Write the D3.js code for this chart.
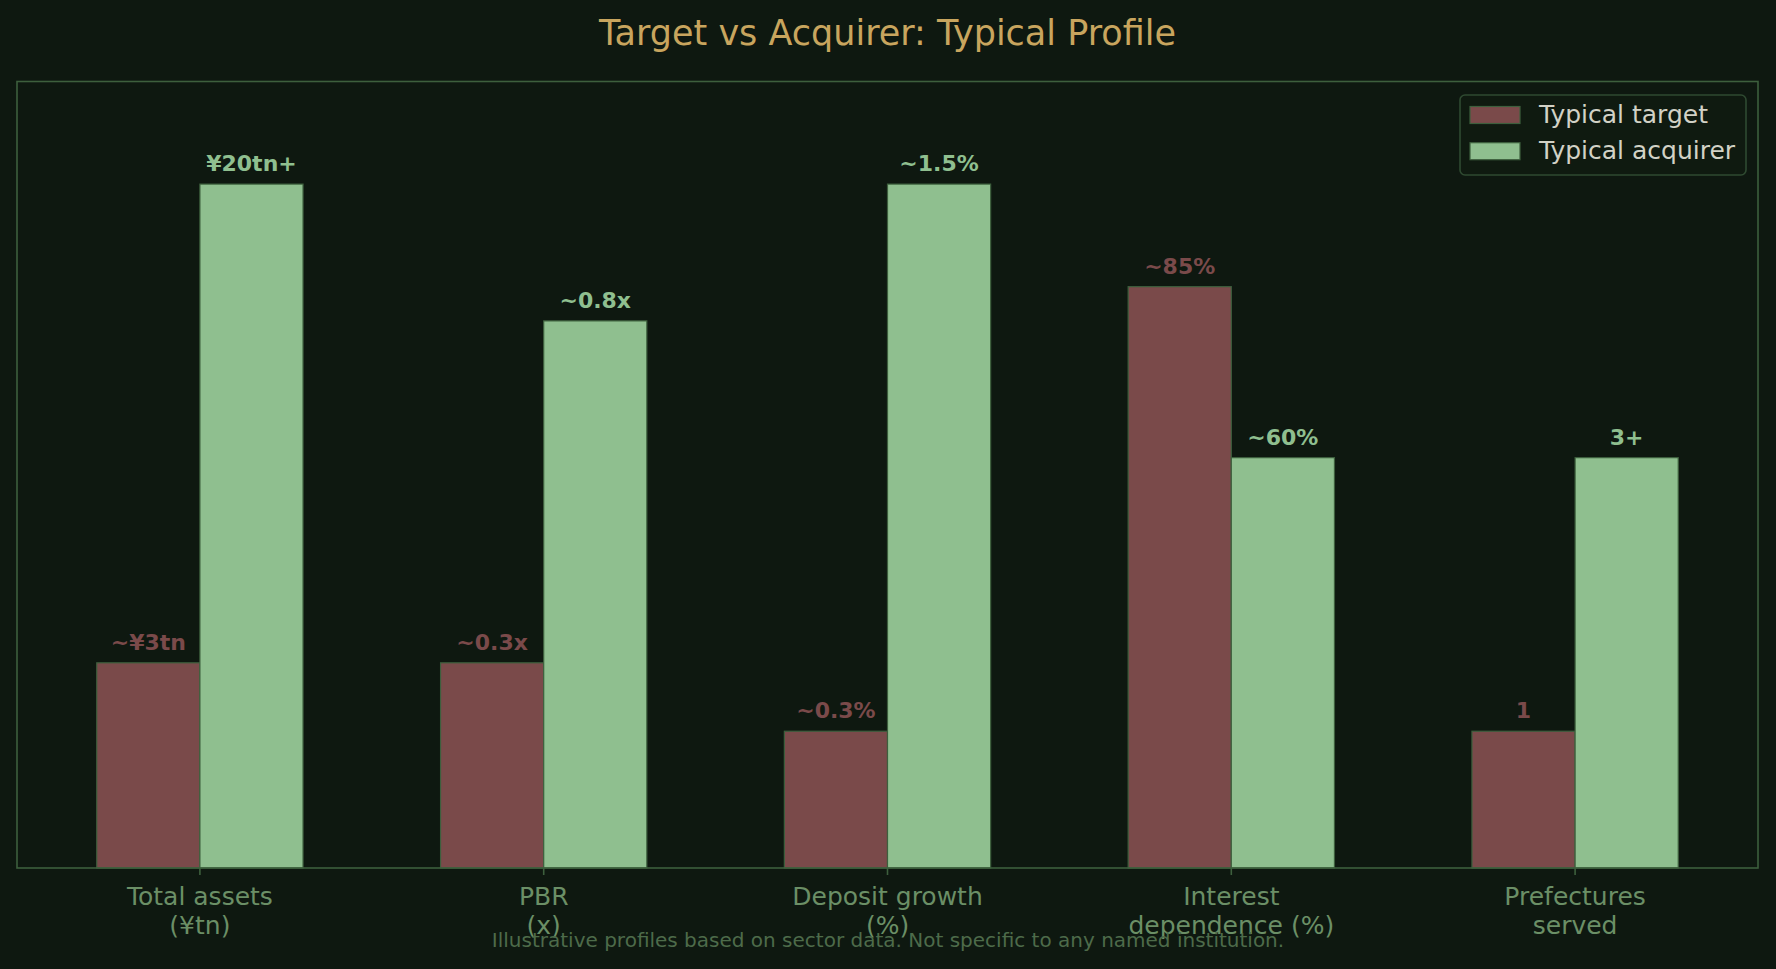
<!DOCTYPE html>
<html>
<head>
<meta charset="utf-8">
<script src="https://cdn.jsdelivr.net/npm/d3@7/dist/d3.min.js"></script>
<style>
  html, body { margin: 0; padding: 0; background: #0e1810; }
  svg { display: block; }
  text { font-family: "DejaVu Sans", sans-serif; }
</style>
</head>
<body>
<svg id="chart" width="1776" height="969"></svg>
<script>
// ---- data ----
const categories = [
  ["Total assets", "(¥tn)"],
  ["PBR", "(x)"],
  ["Deposit growth", "(%)"],
  ["Interest", "dependence (%)"],
  ["Prefectures", "served"]
];
const seriesNames = ["Typical target", "Typical acquirer"];
const targetScores = [3, 3, 2, 8.5, 2];
const acquirerScores = [10, 8, 10, 6, 6];
const targetLabels = ["~¥3tn", "~0.3x", "~0.3%", "~85%", "1"];
const acquirerLabels = ["¥20tn+", "~0.8x", "~1.5%", "~60%", "3+"];
const yMax = 11.5;

const colors = { target: "#7a4a4a", acquirer: "#8fbf8f" };
const edge = "#3d5f3d";

const W = 1776, H = 969;
const m = { left: 17, right: 1758, top: 81.5, bottom: 868 };
const svg = d3.select("#chart");

svg.append("rect").attr("width", W).attr("height", H).attr("fill", "#0e1810");

const idx = d3.range(categories.length);
const x = d3.scaleBand().domain(idx).range([m.left, m.right])
  .paddingInner(0.4).paddingOuter(0.232);
const xs = d3.scaleBand().domain([0, 1]).range([0, x.bandwidth()]);
const y = d3.scaleLinear().domain([0, yMax]).range([m.bottom, m.top]);

const series = [
  { key: "target", values: targetScores, labels: targetLabels, color: colors.target },
  { key: "acquirer", values: acquirerScores, labels: acquirerLabels, color: colors.acquirer }
];

const plot = svg.append("g");
series.forEach((s, si) => {
  const g = plot.append("g");
  g.selectAll("rect").data(s.values).join("rect")
    .attr("x", (d, i) => x(i) + xs(si))
    .attr("y", d => y(d))
    .attr("width", xs.bandwidth())
    .attr("height", d => y(0) - y(d))
    .attr("fill", s.color)
    .attr("stroke", edge)
    .attr("stroke-width", 1.2);
  g.selectAll("text").data(s.values).join("text")
    .attr("x", (d, i) => x(i) + xs(si) + xs.bandwidth() / 2)
    .attr("y", d => y(d) - 13)
    .attr("text-anchor", "middle")
    .attr("font-size", 22)
    .attr("font-weight", "bold")
    .attr("fill", s.color)
    .text((d, i) => s.labels[i]);
});

// frame
svg.append("rect")
  .attr("x", m.left).attr("y", m.top)
  .attr("width", m.right - m.left).attr("height", m.bottom - m.top)
  .attr("fill", "none").attr("stroke", "#3d5f3d").attr("stroke-width", 1.6);

// x axis
const xAxis = d3.axisBottom(x).tickSize(7).tickSizeOuter(0).tickFormat("");
const ax = svg.append("g").attr("transform", `translate(0,${m.bottom})`).call(xAxis);
ax.select(".domain").remove();
ax.selectAll(".tick line").attr("stroke", "#3d5f3d").attr("stroke-width", 1.6);
ax.selectAll(".tick").each(function(d) {
  const t = d3.select(this).append("text")
    .attr("text-anchor", "middle")
    .attr("fill", "#6b8f66")
    .attr("font-size", 25)
    .attr("y", 37);
  categories[d].forEach((line, li) => {
    t.append("tspan").attr("x", 0).attr("dy", li === 0 ? 0 : 28.5).text(line);
  });
});

// title
svg.append("text")
  .attr("x", (m.left + m.right) / 2).attr("y", 45)
  .attr("text-anchor", "middle")
  .attr("font-size", 35)
  .attr("fill", "#c8a55e")
  .text("Target vs Acquirer: Typical Profile");

// footnote
svg.append("text")
  .attr("x", W / 2 - 0).attr("y", 947)
  .attr("text-anchor", "middle")
  .attr("font-size", 20)
  .attr("fill", "#4d6b4a")
  .text("Illustrative profiles based on sector data. Not specific to any named institution.");

// legend
const lg = svg.append("g");
lg.append("rect")
  .attr("x", 1460).attr("y", 95).attr("width", 286).attr("height", 80)
  .attr("rx", 5).attr("fill", "#0f1a10").attr("stroke", "#2f4a31").attr("stroke-width", 1.6);
series.forEach((s, i) => {
  const yy = 106.5 + i * 36.2;
  lg.append("rect").attr("x", 1470).attr("y", yy).attr("width", 50).attr("height", 17)
    .attr("fill", s.color).attr("stroke", edge).attr("stroke-width", 1.2);
  lg.append("text").attr("x", 1539).attr("y", yy + 16)
    .attr("font-size", 25).attr("fill", "#d2d2c6")
    .text(seriesNames[i]);
});
</script>
</body>
</html>
